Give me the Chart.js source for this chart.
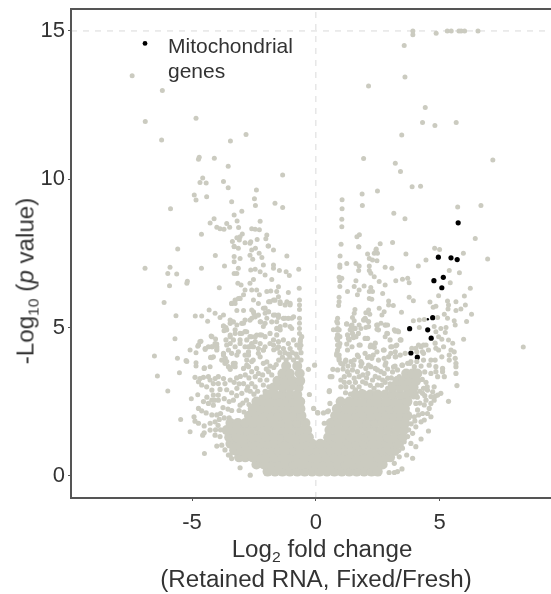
<!DOCTYPE html>
<html>
<head>
<meta charset="utf-8">
<title>Volcano plot</title>
<script src="https://cdn.jsdelivr.net/npm/chart.js@4"></script>
<style>
  html, body { margin: 0; padding: 0; background: #fff; }
  #wrap { position: relative; width: 551px; height: 594px; overflow: hidden; font-family: "Liberation Sans", Arial, sans-serif; color: #333; }
  #wrap canvas { position: absolute; left: 0; top: 0; }
  .txt { position: absolute; white-space: nowrap; font-size: 23px; line-height: 25px; }
  .txt sub { font-size: 15px; line-height: 0; vertical-align: -5px; }
</style>
</head>
<body>
<div id="wrap">
  <canvas id="volcano" width="551" height="594"></canvas>
  <div class="txt" style="left:168px;top:33px;font-size:21px;">Mitochondrial<br>genes</div>
  <div class="txt" style="left:322px;top:537px;transform:translateX(-50%) scaleX(1.05);">Log<sub>2</sub> fold change</div>
  <div class="txt" style="left:316px;top:567px;transform:translateX(-50%) scaleX(1.05);">(Retained RNA, Fixed/Fresh)</div>
  <div class="txt" style="left:26px;top:281px;transform:translate(-50%,-50%) rotate(-90deg) scaleX(1.05);">-Log<sub>10</sub> (<i>p</i> value)</div>
</div>
<script>
// --- axis ticks ---
const xTicks = [-5, 0, 5];
const yTicks = [0, 5, 10, 15];

// --- mitochondrial genes (black) ---
const mitoGenes = [
  [5.75,8.53],[4.95,7.37],[5.46,7.35],[5.71,7.29],[5.15,6.69],[4.77,6.58],[5.09,6.34],[4.72,5.33],
  [3.79,4.96],[4.52,4.92],[4.66,4.64],[3.84,4.14],[4.10,4.00]
];
// two of them are almost hidden under grey dots
const mitoHidden = [[4.52,5.28],[3.79,2.78]];
const legendMarker = [[-6.90,14.58]];

// --- other genes, top part read one by one ---
const sparseLeft = [
  [-7.42,13.49],[-6.20,12.99],[-6.89,11.95],[-4.84,12.06],[-6.23,11.32],[-2.82,11.51],[-3.45,11.29],[-4.71,10.74],
  [-4.74,10.67],[-4.10,10.71],[-3.54,10.44],[-4.57,10.04],[-4.68,9.89],[-4.43,9.87],[-3.73,9.92],[-3.54,9.71],
  [-4.91,9.47],[-4.84,9.30],[-4.41,9.41],[-2.40,9.64],[-2.48,9.34],[-3.40,9.24],[-2.44,9.11],[-1.65,9.19],
  [-5.87,9.00],[-2.99,8.92],[-3.30,8.79],[-3.18,8.59],[-4.11,8.67],[-4.27,8.52],[-3.60,8.51],[-2.25,8.58],
  [-4.00,8.38],[-3.87,8.33],[-3.71,8.31],[-3.48,8.38],[-3.12,8.37],[-2.59,8.33],[-2.45,8.31],[-2.28,8.30],
  [-4.62,8.14],[-2.97,8.15],[-3.06,8.06],[-3.19,8.03],[-1.98,8.12],[-2.02,7.99],[-2.37,7.97],[-3.37,7.90],
  [-3.30,7.74],[-3.09,7.95],[-2.86,7.86],[-2.66,7.84],[-2.63,7.89],[-1.93,7.75],[-5.58,7.65],[-2.44,7.67],
  [-1.34,10.14],[-1.34,9.05],
  [-6.90,7.00],[-5.89,7.03],[-5.98,6.82],[-5.62,6.80],[-4.62,7.00],[-4.06,7.43],[-3.69,7.07],[-5.19,6.56],
  [-5.21,6.49],[-5.91,6.41],[-3.90,6.34],[-6.13,5.84],[-5.65,5.40],[-4.87,5.39],[-4.61,5.39],[-4.31,5.59],
  [-4.07,5.48],[-4.37,5.21],[-5.69,4.62],[-6.52,4.04],[-5.59,3.96],[-6.40,3.36],[-5.51,3.47],[-5.98,2.86],
  [-5.46,1.90],[-5.08,1.48],[-4.50,0.75],[-5.03,2.60],[-4.77,2.73],[-5.21,3.85],[-5.08,4.24],[-4.84,4.15],
  [-4.64,4.54],[-4.84,3.81],[-4.84,3.70],[-4.47,4.26],[-4.50,3.64],[-4.27,3.68],[-4.77,4.37],[-4.23,4.71],
  [-4.05,4.61],[-4.19,4.35],[-4.00,4.44],[-4.00,4.29],[-4.21,3.98],[-3.73,5.05],[-3.71,4.89],[-3.87,5.34],[-3.73,5.42],
  [-3.30,7.72],[-3.13,7.67],[-3.30,7.39],[-3.06,7.33],[-3.30,7.22],[-2.59,7.61],[-2.66,7.44],[-2.55,7.30],
  [-2.29,7.50],[-2.18,7.36],[-1.91,7.75],[-1.71,7.61],[-1.17,7.41],[-3.13,7.00],[-3.19,6.82],[-3.30,6.82],
  [-2.63,6.94],[-2.45,6.96],[-2.25,6.88],[-2.05,6.77],[-1.71,7.11],[-1.71,7.00],[-1.47,6.92],[-1.20,6.88],
  [-1.07,6.75],[-0.69,6.96],[-2.52,6.62],[-2.66,6.49],[-2.12,7.11],[-1.78,6.62],[-3.15,6.49],[-3.02,6.43],
  [-1.51,6.37],[-0.67,6.32],[-1.11,6.18],[-2.86,6.26],[-2.59,6.26],[-2.39,6.26],[-2.28,6.10],[-1.98,6.21],
  [-1.82,6.23],[-1.58,6.21],[-3.13,5.98],[-3.40,5.81],[-3.26,5.81],[-2.92,6.10],[-2.52,5.93],[-2.32,5.81],
  [-1.91,5.87],[-1.71,5.93],[-1.51,6.04],[-1.44,5.87],[-1.17,5.87],[-1.04,5.76],[-0.66,5.93],[-0.66,5.76],
  [-0.66,5.61],[-3.19,5.57],[-2.92,5.57],[-2.59,5.59],[-2.50,5.46],[-2.59,5.31],[-2.12,5.65],[-2.05,5.48],
  [-1.91,5.53],[-1.98,5.31],[-1.64,5.42],[-1.51,5.34],[-1.58,5.19],[-1.24,5.31],[-0.97,5.31],[-0.66,5.31],
  [-0.66,5.14],[-0.66,4.97],[-3.63,5.00],[-3.40,5.19],[-3.19,5.08],[-2.92,5.14],[-2.25,5.19],[-2.12,5.03],
  [-1.44,5.03],[-0.97,4.97],[-3.46,4.75],[-3.26,4.80],[-2.99,4.80],[-2.79,4.86],[-2.59,4.69],[-2.39,4.75],[-2.18,4.75],
  [-0.66,4.80],[-0.62,4.60],[-0.60,4.40]
];
const sparseRight = [
  [3.92,15.00],[3.92,14.87],[4.86,14.92],[5.31,15.00],[5.47,15.00],[5.78,15.00],[5.87,15.00],[6.01,15.00],
  [6.55,15.00],[3.57,14.51],[3.60,13.45],[2.13,13.14],[4.42,12.42],[4.31,11.91],[4.81,11.81],[5.67,11.91],
  [3.47,11.49],[1.93,10.70],[7.15,10.65],[3.21,10.54],[3.42,10.26],[3.89,9.75],[4.23,9.76],[2.49,9.60],
  [1.87,9.50],[1.06,9.31],[1.06,9.00],[1.88,9.11],[3.15,8.85],[3.60,8.67],[5.73,9.06],[6.67,9.11],
  [1.05,8.65],[1.05,8.40],[1.76,8.13],[1.66,8.06],[6.44,8.00],[1.02,7.81],[1.74,7.71],[2.60,7.82],
  [3.10,7.87],[2.44,7.65],[4.80,7.67],[5.00,7.63],[1.73,7.72],[2.43,7.61],[2.09,7.48],[2.36,7.50],
  [2.49,7.50],[3.64,7.48],[0.98,7.41],[2.16,7.33],[2.29,7.28],[2.47,7.25],[4.45,7.28],[5.96,7.50],
  [6.94,7.31],[0.97,7.11],[0.97,7.03],[1.25,7.16],[1.62,7.16],[1.75,7.07],[1.73,6.92],[2.16,7.07],
  [2.16,6.92],[2.22,6.83],[2.80,7.03],[3.07,7.00],[4.14,7.07],[5.39,6.92],[5.80,6.85],[0.94,6.69],
  [1.05,6.66],[0.97,6.58],[1.62,6.58],[2.36,6.71],[2.56,6.55],[3.23,6.58],[3.50,6.63],[3.71,6.66],
  [3.77,6.51],[5.43,6.51],[0.97,6.38],[1.28,6.21],[1.55,6.38],[1.75,6.26],[1.95,6.40],[2.22,6.35],
  [2.29,6.21],[2.16,6.21],[2.80,6.43],[2.70,6.15],[6.24,6.32],[1.68,6.10],[4.96,6.07],[0.94,6.02],
  [0.94,5.87],[0.92,5.74],[2.16,5.98],[2.26,5.95],[2.94,5.89],[2.94,5.76],[3.13,5.74],[3.77,6.02],
  [3.94,5.90],[4.61,5.86],[4.85,5.72],[4.74,5.68],[5.32,5.89],[5.36,5.76],[5.34,5.62],[5.66,5.87],
  [6.00,6.06],[6.04,5.76],[5.86,5.62],[5.66,5.57],[6.29,5.45],[1.58,5.61],[1.55,5.48],[2.56,5.65],
  [2.76,5.53],[2.67,5.42],[2.13,5.59],[2.02,5.50],[2.18,5.45],[3.46,5.51],[0.88,5.31],[0.88,5.14],
  [0.88,4.97],[1.48,5.34],[1.55,5.23],[1.95,5.27],[2.02,5.25],[2.63,5.14],[2.90,5.08],[3.94,5.23],
  [4.18,5.25],[4.38,5.27],[4.92,5.34],[5.19,5.45],[5.32,5.31],[5.59,5.23],[5.63,5.08],[6.09,5.20],
  [0.71,4.92],[1.24,5.12],[1.42,5.05],[1.51,4.97],[1.75,5.08],[1.82,4.97],[2.02,5.00],[2.49,5.08],
  [2.47,4.94],[2.83,5.08],[2.90,4.80],[3.17,4.92],[3.30,4.89],[2.80,4.69],[4.18,5.00],[4.78,5.03],
  [5.05,4.97],[5.26,5.00],[5.23,4.83],[4.85,4.86],[4.96,4.69],[5.09,4.60],[5.36,4.58],[5.53,4.47],
  [5.97,4.60],[8.38,4.34]
];

// --- scattered dots around the solid mass ---
const raggedLeft = [
  [-5.24,3.88],[-4.25,3.99],[-4.51,3.62],[-3.06,0.27],[-3.46,0.70],[-3.40,0.58],[-2.65,0.02],[-4.00,1.00],
  [-4.88,3.32],[-4.74,3.17],[-4.61,3.06],[-4.41,3.00],[-4.20,2.89],[-4.27,3.23],[-4.07,3.28],[-3.94,3.34],
  [-3.73,3.28],[-3.46,3.23],[-4.54,3.32],[-4.34,3.34],[-4.68,3.28],[-4.14,3.11],[-3.94,3.11],[-3.67,3.11],
  [-3.87,2.91],[-4.14,2.72],[-3.94,2.72],[-4.54,2.50],[-4.34,2.44],[-4.14,2.38],[-3.94,2.55],[-4.74,2.27],
  [-4.61,2.19],[-4.43,2.12],[-4.20,2.05],[-4.00,2.05],[-4.92,1.99],[-4.88,1.84],[-4.74,1.77],[-4.51,1.68],
  [-4.27,1.77],[-4.07,1.82],[-4.57,1.37],[-4.51,1.45],[-4.27,1.54],[-4.07,1.37],[-3.87,1.32],[-3.80,1.03],
  [-3.67,0.87],[-3.53,0.70],[-3.33,3.79],[-3.26,3.68],[-3.46,3.59],[-3.73,4.07],[-3.80,3.90],[-3.67,3.79],
  [-4.03,4.41],[-4.20,4.35],[-4.00,4.24],[-3.53,4.24],[-3.13,4.18],[-2.72,4.07],[-4.14,4.01],[-2.92,3.62],
  [-2.79,3.73],[-2.59,3.51],[-2.45,3.34],[-2.32,3.45],[-2.92,3.11],[-3.19,2.95],[-2.99,2.78],[-2.79,2.89],
  [-3.33,2.55],[-3.06,2.38],[-2.59,3.11],[-2.45,3.00],[-2.25,3.23],[-2.12,3.06],[-2.53,3.90],[-2.25,4.01],
  [-2.12,4.24],[-1.98,3.84],[-2.32,4.29],[-2.72,4.35],[-2.59,4.46],[-1.91,3.51],[-1.78,3.40],[-1.98,3.23],
  [-3.63,4.58],[-3.46,4.46],[-3.26,4.35],[-3.06,4.58],[-2.86,4.35],[-2.72,4.18],[-2.52,4.35],[-2.32,4.13],
  [-2.12,4.24],[-2.86,4.07],[-3.40,4.13],[-3.19,4.07],[-3.73,4.13],[-3.66,3.96],[-3.60,3.85],[-3.53,3.68],
  [-3.26,3.79],[-3.33,3.70],[-2.79,3.90],[-2.72,3.68],[-2.59,3.85],[-2.39,3.62],[-2.12,3.79],
  [-0.05,3.73],[-0.30,3.59],[-0.26,2.74],[-0.09,2.27],
  [-1.85,5.87],[-1.65,5.92],[-1.44,5.81],[-1.24,5.76],[-1.04,5.81],[-2.05,5.65],[-1.91,5.53],[-1.71,5.42],
  [-1.51,5.42],[-1.31,5.31],[-1.11,5.31],[-0.90,5.36],[-2.52,5.53],[-2.45,5.36],[-2.66,5.25],[-2.32,5.42],
  [-2.23,5.19],[-2.05,5.14],[-1.78,5.19],[-1.58,4.97],[-1.44,4.92],[-1.24,5.08],[-1.04,5.03],[-1.58,4.75],
  [-1.85,4.80],[-2.05,4.69],[-2.25,4.75],[-2.45,4.69],[-2.66,4.69],[-2.86,4.86],[-3.06,4.80],[-3.26,4.92],
  [-3.46,5.14],[-3.33,5.19],[-3.60,4.92],[-3.73,5.05],[-2.86,5.25],[-2.99,5.14],[-3.40,5.81],[-3.26,5.92],
  [-3.06,5.98],[-3.46,5.25],[-1.71,4.58],[-1.51,4.52],[-1.31,4.58],[-1.11,4.46],[-0.90,4.58],[-1.71,4.41],
  [-1.51,4.35],[-1.31,4.29],[-1.04,4.29],[-0.77,4.41],[-0.63,4.52],[-0.57,4.69],[-1.85,4.46],[-2.05,4.35],
  [-2.25,4.46],[-2.45,4.52],[-2.66,4.35],[-2.79,4.58],[-3.06,4.46],[-3.33,4.58],[-3.46,4.69],[-3.60,4.41],
  [-4.07,4.46],[-4.20,4.69],[-4.00,4.35],[-4.34,4.35],[-4.68,4.52],[-4.74,4.41],[-4.47,4.29],
  [-1.50,3.90],[-1.35,4.00],[-1.20,3.90],[-1.05,4.00],[-0.90,3.90],[-0.75,4.00],[-0.60,3.90],[-1.45,4.15],
  [-1.25,4.15],[-1.10,4.10],[-0.95,4.15],[-0.80,4.10],[-0.60,4.15],[-1.70,4.25],[-1.55,4.30],[-0.65,4.30],
  [-3.60,2.90],[-3.40,2.80],[-3.20,2.70],[-3.70,2.60],[-3.50,2.50],[-3.75,2.30],[-3.55,2.25],[-3.40,2.20],
  [-3.85,2.10],[-3.70,1.95],[-3.90,1.90],[-3.95,1.70],[-4.05,1.55],[-3.85,1.55],[-4.20,2.55],[-4.40,2.65],
  [-4.10,2.55],[-2.70,3.30],[-2.85,3.40],[-3.05,3.35],[-3.20,3.30],[-3.30,3.15],[-3.10,3.10],[-2.75,3.00],
  [-2.65,2.85],[-2.50,2.75],[-2.35,2.85],[-2.20,2.65],[-2.05,2.85],[-1.90,3.00],[-2.15,3.40],[-2.00,3.60],
  [-1.85,3.70],[-1.70,3.65],[-1.60,3.75],[-2.80,2.55],[-2.95,2.45],[-2.70,2.40],[-3.10,2.20],[-2.90,2.15],[-3.50,1.95]
];
const raggedRight = [
  [0.08,2.12],[0.31,2.12],[0.51,2.19],[0.55,2.87],[0.58,3.34],[0.69,3.59],
  [0.88,4.75],[0.88,4.58],[0.88,4.41],[0.88,4.24],[0.94,4.92],[0.84,4.07],[0.97,4.69],[0.97,4.46],
  [1.28,4.75],[1.48,4.80],[1.35,4.58],[1.62,4.69],[1.75,4.41],[2.09,4.63],[2.22,4.41],[2.36,4.33],
  [2.76,4.24],[3.03,4.35],[3.23,4.38],[3.44,4.58],[3.21,4.18],[1.28,4.24],[1.68,4.07],[2.09,3.99],
  [2.32,4.07],[3.03,4.13],[3.23,4.02],[2.76,3.96],[2.83,3.81],[4.04,4.30],[4.25,4.35],[4.45,4.41],
  [4.31,4.18],[4.85,4.30],[5.46,4.24],[5.59,4.18],[5.39,4.07],[5.63,3.96],[5.66,3.79],[5.66,3.68],
  [5.66,3.45],[5.39,3.90],[5.12,3.62],[5.12,3.51],[5.19,3.34],[5.70,3.04],[5.36,2.51],[5.05,2.78],
  [4.92,2.72],[4.82,2.68],[4.65,2.44],[4.58,2.27],[4.65,1.99],[4.51,2.10],[4.55,1.51],[4.25,1.24],
  [4.38,1.88],[3.91,0.59],[3.67,0.70],[3.48,0.23],[3.30,0.14],[3.17,0.11],[2.96,0.11],[4.04,0.98],
  [0.94,4.07],[0.94,3.90],[1.01,3.79],[1.21,3.90],[1.42,3.85],[1.55,3.90],[0.88,3.57],[0.65,3.34],
  [0.54,2.84],[0.57,2.44],[0.47,2.16],[0.07,2.13],[0.34,1.77],[1.28,3.51],[1.48,3.57],[1.68,3.51],
  [1.15,3.34],[1.35,3.40],[1.55,3.29],[1.75,3.34],[1.89,3.17],[2.02,3.12],[1.75,3.00],[1.01,3.23],
  [1.01,3.00],[1.21,3.00],[1.48,3.00],[1.82,3.85],[1.82,3.70],[2.02,3.62],[2.22,3.68],[2.16,4.02],
  [2.29,3.23],[2.49,3.57],[2.63,3.51],[2.76,3.45],[2.70,3.23],[2.90,3.29],[2.49,3.06],[2.90,2.95],
  [3.17,3.12],[3.30,3.57],[3.50,3.73],[3.71,3.79],[3.84,3.85],[3.37,3.34],[3.64,3.51],[3.98,3.68],
  [4.65,3.90],[4.58,3.73],[4.85,3.68],[4.85,3.51],[4.92,3.34],[4.65,3.45],[4.78,3.00],[4.72,2.83],
  [4.65,2.67],[4.78,2.55],[4.45,2.55],[4.38,2.39],[4.31,2.10],[4.25,1.82],[4.04,1.65],[3.91,1.43],
  [3.84,1.09],[3.50,0.93],[3.23,0.76],[3.98,1.99],[4.11,2.22],[4.04,2.44],[4.31,2.78],[4.51,2.89],
  [3.71,1.32],[3.57,1.15],[3.64,1.66],[3.37,0.64],[3.17,0.42],
  [0.85,5.20],[0.85,4.92],[0.85,4.64],[0.94,4.36],[0.85,4.13],[0.94,3.96],[1.25,5.12],[1.46,5.08],
  [1.39,4.92],[1.59,4.97],[1.72,4.80],[1.32,4.63],[1.52,4.66],[1.25,4.44],[1.46,4.35],[1.79,4.41],
  [1.99,5.31],[2.13,5.20],[1.93,5.25],[2.13,5.03],[2.46,5.08],[2.53,4.92],[2.80,5.08],[2.87,4.80],
  [3.21,4.88],[3.34,4.86],[3.00,4.58],[3.41,4.58],[1.99,4.63],[2.20,4.35],[2.40,4.47],[2.73,4.24],
  [2.47,4.18],[3.07,4.35],[3.27,4.41],[1.99,4.13],[1.72,4.01],[2.26,3.96],[2.53,3.90],[2.94,4.01],
  [3.21,4.01],[3.41,4.07],[3.61,4.13],[3.88,4.30],[4.15,4.41],[4.35,4.41],[4.08,4.18],[4.35,4.13],
  [4.55,4.24],[4.82,4.47],[4.96,4.24],[5.16,4.35],[5.09,4.01],[4.82,3.90],[1.19,3.85],[1.52,3.73],
  [1.86,3.79],[2.13,3.73],[2.40,3.62],[2.80,3.73],[3.14,3.67],[3.48,3.73],[3.81,3.79],[4.08,3.85],[4.35,3.90],
  [1.20,2.80],[1.40,2.75],[1.15,3.15],[1.35,3.15],[1.60,3.15],[1.60,2.90],[1.85,2.85],[2.05,3.30],
  [2.20,3.05],[2.35,2.95],[2.55,3.30],[2.65,3.05],[2.80,3.15],[3.00,3.10],[3.05,3.30],[3.00,2.95],
  [1.90,3.40],[2.10,3.45],[2.40,3.35],[3.10,3.50],[3.20,3.70],[2.90,3.60],[1.10,3.60],[1.10,3.75],
  [1.30,3.70],[4.15,3.40],[4.30,3.25],[4.40,3.50],[4.25,3.70],[4.45,3.15],[4.50,3.00],[4.35,2.95],
  [4.20,2.85],[4.40,2.70],[4.10,2.65],[4.20,2.45],[4.15,2.05],[4.00,1.85],[3.85,1.75],[3.75,1.55],
  [3.60,1.30],[3.45,1.05],[3.35,0.85]
];

// --- the solid grey mass: too many genes overlap to read singly, so each row is
// a -log10 p level with the fold changes where the mass is filled at that level ---
const solidRows = [
  [0.14, [-1.95,-1.65,-1.35,-1.05,-0.75,-0.45,-0.15,0.15,0.45,0.75,1.05,1.35,1.65,1.95,2.25,2.50]],
  [0.38, [-2.40,-2.10,-1.80,-1.50,-1.20,-0.90,-0.60,-0.30,0,0.30,0.60,0.90,1.20,1.50,1.80,2.10,2.40,2.70]],
  [0.62, [-3.10,-2.85,-2.55,-2.25,-1.95,-1.65,-1.35,-1.05,-0.75,-0.45,-0.15,0.15,0.45,0.75,1.05,1.35,1.65,1.95,2.25,2.55,2.85,3.00]],
  [0.86, [-3.30,-3.00,-2.70,-2.40,-2.10,-1.80,-1.50,-1.20,-0.90,-0.60,-0.30,0,0.30,0.60,0.90,1.20,1.50,1.80,2.10,2.40,2.70,3.00,3.20]],
  [1.08, [-3.45,-3.15,-2.85,-2.55,-2.25,-1.95,-1.65,-1.35,-1.05,-0.75,-0.45,-0.15,0.18,0.45,0.75,1.05,1.35,1.65,1.95,2.25,2.55,2.85,3.15,3.30]],
  [1.30, [-3.50,-3.20,-2.90,-2.60,-2.30,-2.00,-1.70,-1.40,-1.10,-0.80,-0.50,-0.28,0.50,0.80,1.10,1.40,1.70,2.00,2.30,2.60,2.90,3.20,3.50]],
  [1.54, [-3.60,-3.35,-3.05,-2.75,-2.45,-2.15,-1.85,-1.55,-1.25,-0.95,-0.65,-0.35,0.55,0.85,1.15,1.45,1.75,2.05,2.35,2.65,2.95,3.25,3.55]],
  [1.78, [-3.45,-3.15,-2.85,-2.55,-2.25,-1.95,-1.65,-1.35,-1.05,-0.75,-0.42,0.60,0.90,1.20,1.50,1.80,2.10,2.40,2.70,3.00,3.30,3.60]],
  [2.02, [-2.70,-2.40,-2.10,-1.80,-1.50,-1.20,-0.90,-0.58,0.78,1.05,1.35,1.65,1.95,2.25,2.55,2.85,3.15,3.45,3.70]],
  [2.26, [-2.55,-2.25,-1.95,-1.65,-1.35,-1.05,-0.62,-0.85,0.85,1.20,1.50,1.80,2.10,2.40,2.70,3.00,3.30,3.60]],
  [2.50, [-2.40,-2.10,-1.80,-1.50,-1.20,-0.90,-0.63,1.00,1.35,1.65,1.95,2.25,2.55,2.85,3.15,3.45,3.70]],
  [2.74, [-1.95,-1.65,-1.35,-1.05,-0.75,1.60,1.90,2.20,2.50,2.80,3.10,3.40,3.70,3.95]],
  [2.98, [-1.70,-1.35,-1.05,-0.70,3.10,3.40,3.70,3.95]],
  [3.20, [-1.55,-1.25,-0.95,-0.63,3.30,3.55,3.80,4.05]],
  [3.45, [-1.35,-1.05,-0.65,3.65,3.90,4.10]],
  [3.70, [-1.20,-0.75]]
];

const asPoints = list => list.map(p => ({ x: p[0], y: p[1] }));
const solidPoints = [];
solidRows.forEach(row => row[1].forEach(x => solidPoints.push({ x: x, y: row[0] })));

const GREY = '#cbcbc0';
const guideColor = 'rgba(130,130,130,0.25)';
const axisColor = '#555';

const dots = (data, color, radius) => ({
  type: 'scatter', data: data, backgroundColor: color, borderWidth: 0,
  pointRadius: radius, pointHoverRadius: radius
});
const guide = (data) => ({
  type: 'line', data: data, borderColor: guideColor, borderWidth: 1.2,
  borderDash: [6, 6], pointRadius: 0, fill: false
});

// the frame has a top line too but no right one
const topLine = {
  id: 'topLine',
  afterDraw(chart) {
    const a = chart.chartArea, c = chart.ctx;
    c.save();
    c.strokeStyle = axisColor;
    c.lineWidth = 2;
    c.beginPath();
    c.moveTo(a.left - 1, a.top);
    c.lineTo(a.right, a.top);
    c.stroke();
    c.restore();
  }
};

new Chart(document.getElementById('volcano'), {
  type: 'scatter',
  data: {
    datasets: [
      dots(solidPoints, GREY, 5),
      dots(asPoints(raggedLeft), GREY, 2.6),
      dots(asPoints(raggedRight), GREY, 2.6),
      dots(asPoints(sparseLeft), GREY, 2.5),
      dots(asPoints(sparseRight), GREY, 2.5),
      dots(asPoints(mitoHidden), '#000', 1.3),
      dots(asPoints(mitoGenes), '#000', 2.6),
      dots(asPoints(legendMarker), '#000', 2.4),
      guide([{ x: 0, y: -0.75 }, { x: 0, y: 15.74 }]),
      guide([{ x: -9.89, y: 15 }, { x: 9.5, y: 15 }])
    ]
  },
  options: {
    animation: false,
    responsive: false,
    layout: { autoPadding: false, padding: { top: 9, left: 0, right: 0, bottom: 0 } },
    plugins: { legend: { display: false }, tooltip: { enabled: false } },
    scales: {
      x: {
        type: 'linear', min: -9.89, max: 9.5,
        afterBuildTicks: s => { s.ticks = xTicks.map(v => ({ value: v })); },
        afterFit: s => { s.height = 96; s.paddingLeft = 0; s.paddingRight = 0; },
        grid: { drawOnChartArea: false, tickLength: 3, tickColor: axisColor, tickWidth: 1 },
        border: { color: axisColor, width: 2 },
        ticks: { padding: 9, maxRotation: 0, color: '#333', font: { family: '"Liberation Sans"', size: 22 } }
      },
      y: {
        type: 'linear', min: -0.75, max: 15.74,
        afterBuildTicks: s => { s.ticks = yTicks.map(v => ({ value: v })); },
        afterFit: s => { s.width = 71; s.paddingTop = 0; s.paddingBottom = 0; },
        grid: { drawOnChartArea: false, tickLength: 3, tickColor: axisColor, tickWidth: 1 },
        border: { color: axisColor, width: 2 },
        ticks: { padding: 3, color: '#333', font: { family: '"Liberation Sans"', size: 22 } }
      }
    }
  },
  plugins: [topLine]
});
</script>
</body>
</html>
